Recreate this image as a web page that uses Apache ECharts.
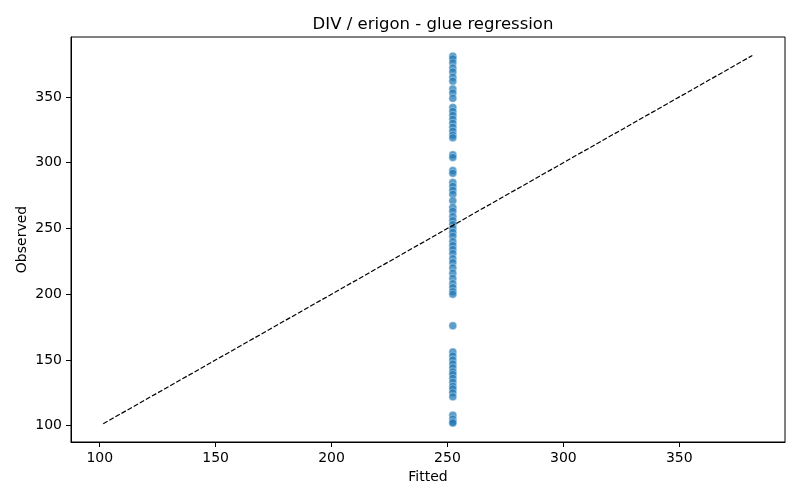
<!DOCTYPE html>
<html lang="en">
<head>
    <meta charset="UTF-8">
    <title>DIV / erigon - glue regression</title>
    <script src="https://cdn.jsdelivr.net/npm/echarts@6/dist/echarts.min.js"></script>
    <style>
        html, body { margin: 0; padding: 0; background: #fff; }
    </style>
</head>
<body>
<div id="chart" style="width: 800px;height:500px;"></div>
<script type="text/javascript">
    // fitted value (same for every point) and observed values
    var fitted = 252.3;
    var observed = [
        381, 379, 376, 372, 369, 365, 362, 356, 353, 349,
        342, 339, 336, 333, 330, 327, 324, 321, 319,
        306, 304,
        294, 292, 285, 282, 279, 276, 271, 266, 263, 259,
        256, 253, 250, 247, 244, 240, 237, 234, 231, 227,
        224, 220, 216, 212, 208, 205, 202, 200,
        176,
        156, 153, 150, 147, 144, 141, 139, 136, 133, 130,
        128, 125, 122,
        108, 105, 103, 102
    ];
    // y = x reference line ends
    var lineEnds = [101.5, 381.5];
    var ticks = [100, 150, 200, 250, 300, 350];
    var axisMin = 87.6;
    var axisMax = 395.6;

    var points = observed.map(function (v) { return [fitted, v]; });
    var diag = lineEnds.map(function (v) { return [v, v]; });

    var font = 'DejaVu Sans';

    function axis(name, gap) {
        return {
            type: 'value',
            name: name,
            nameLocation: 'middle',
            nameGap: gap,
            nameMoveOverlap: false,
            nameTextStyle: { fontFamily: font, fontSize: 14, color: '#000' },
            min: axisMin,
            max: axisMax,
            splitLine: { show: false },
            axisLine: { show: true, onZero: false, lineStyle: { color: '#000', width: 1 } },
            axisTick: { show: true, length: 5, customValues: ticks, lineStyle: { color: '#000' } },
            axisLabel: { customValues: ticks, fontFamily: font, fontSize: 14, color: '#000', margin: 9 }
        };
    }

    var myChart = echarts.init(document.getElementById('chart'));
    var option = {
        animation: false,
        title: {
            text: 'DIV / erigon - glue regression',
            left: 428,
            textAlign: 'center',
            top: 11,
            textStyle: { fontFamily: font, fontSize: 16.5, fontWeight: 'normal', color: '#000' }
        },
        grid: {
            left: 71,
            right: 15,
            top: 37,
            bottom: 58,
            show: true,
            borderColor: '#000',
            borderWidth: 1
        },
        xAxis: axis('Fitted', 28),
        yAxis: axis('Observed', 42),
        series: [
            {
                type: 'scatter',
                data: points,
                symbolSize: 8,
                itemStyle: { color: '#1f77b4', opacity: 0.72, borderColor: '#fff', borderWidth: 0.5 },
                z: 2
            },
            {
                type: 'line',
                data: diag,
                symbol: 'none',
                lineStyle: { color: '#000', width: 1.2, type: [5, 2] },
                z: 3
            }
        ]
    };
    myChart.setOption(option);
</script>
</body>
</html>
